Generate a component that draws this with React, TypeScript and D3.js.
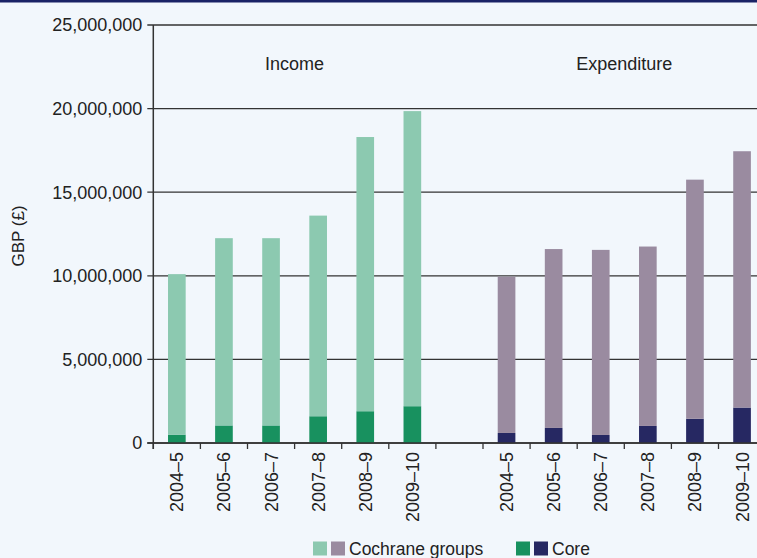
import React, { useEffect, useRef } from "react";
import * as d3 from "d3";

const years = ["2004–5", "2005–6", "2006–7", "2007–8", "2008–9", "2009–10"];
const groups = ["Income", "Expenditure"];

// values in GBP
const incomeCore = [500000, 1050000, 1050000, 1600000, 1900000, 2200000];
const incomeCochrane = [9600000, 11200000, 11200000, 12000000, 16400000, 17650000];
const expenditureCore = [600000, 900000, 480000, 1020000, 1450000, 2120000];
const expenditureCochrane = [9350000, 10700000, 11070000, 10730000, 14300000, 15330000];

const yTicks = [0, 5000000, 10000000, 15000000, 20000000, 25000000];

const colors: Record<string, { cochrane: string; core: string }> = {
  Income: { cochrane: "#8cc9b0", core: "#18915f" },
  Expenditure: { cochrane: "#9a8ba0", core: "#262862" },
};

const W = 757;
const H = 558;
const FONT = "'Liberation Sans', Arial, sans-serif";

export default function App() {
  const ref = useRef<SVGSVGElement | null>(null);

  useEffect(() => {
    const svg = d3.select(ref.current);
    svg.selectAll("*").remove();

    const left = 153.3;
    const top = 25;
    const bottom = 443;
    const step = 47.1;

    // categories: 6 income, a blank spacer, 6 expenditure
    const keys = [
      ...years.map((y) => "Income|" + y),
      "gap",
      ...years.map((y) => "Expenditure|" + y),
    ];
    const x = d3
      .scaleBand<string>()
      .domain(keys)
      .range([left, left + step * keys.length])
      .paddingInner(0.625)
      .paddingOuter(0.3125);
    const y = d3.scaleLinear().domain([0, 25000000]).range([bottom, top]);

    svg.append("rect").attr("width", W).attr("height", H).attr("fill", "#f2f7fc");
    svg.append("rect").attr("width", W).attr("height", 2.5).attr("fill", "#1a2366");

    // gridlines
    svg
      .append("g")
      .selectAll("line")
      .data(yTicks)
      .enter()
      .append("line")
      .attr("x1", left - 6)
      .attr("x2", W)
      .attr("y1", (d) => y(d))
      .attr("y2", (d) => y(d))
      .attr("stroke", "#333")
      .attr("stroke-width", 1.3);

    // y tick labels
    svg
      .append("g")
      .selectAll("text")
      .data(yTicks)
      .enter()
      .append("text")
      .attr("x", left - 11)
      .attr("y", (d) => y(d))
      .attr("dy", "0.35em")
      .attr("text-anchor", "end")
      .style("font-family", FONT)
      .style("font-size", "18px")
      .style("fill", "#222")
      .text((d) => d3.format(",")(d));

    // bars
    const series = [
      { group: "Income", core: incomeCore, cochrane: incomeCochrane },
      { group: "Expenditure", core: expenditureCore, cochrane: expenditureCochrane },
    ];
    const barG = svg.append("g");
    series.forEach((s) => {
      const rows = years.map((yr, i) => ({
        key: s.group + "|" + yr,
        core: s.core[i],
        cochrane: s.cochrane[i],
      }));
      const stacked = d3.stack<any>().keys(["core", "cochrane"])(rows);
      stacked.forEach((layer) => {
        barG
          .append("g")
          .attr("fill", colors[s.group][layer.key as "core" | "cochrane"])
          .selectAll("rect")
          .data(layer)
          .enter()
          .append("rect")
          .attr("x", (d: any) => x(d.data.key)!)
          .attr("width", x.bandwidth())
          .attr("y", (d) => y(d[1]))
          .attr("height", (d) => y(d[0]) - y(d[1]));
      });
    });

    // axes lines
    svg
      .append("line")
      .attr("x1", left)
      .attr("x2", left)
      .attr("y1", top)
      .attr("y2", bottom + 6)
      .attr("stroke", "#333")
      .attr("stroke-width", 1.5);
    svg
      .append("line")
      .attr("x1", left - 6)
      .attr("x2", W)
      .attr("y1", bottom)
      .attr("y2", bottom)
      .attr("stroke", "#333")
      .attr("stroke-width", 1.5);

    // x ticks at band boundaries
    svg
      .append("g")
      .selectAll("line")
      .data(d3.range(keys.length + 1))
      .enter()
      .append("line")
      .attr("x1", (i) => x.range()[0] + i * x.step())
      .attr("x2", (i) => x.range()[0] + i * x.step())
      .attr("y1", bottom)
      .attr("y2", bottom + 6)
      .attr("stroke", "#333")
      .attr("stroke-width", 1.3);

    // x labels
    svg
      .append("g")
      .selectAll("text")
      .data(keys.filter((k) => k !== "gap"))
      .enter()
      .append("text")
      .attr(
        "transform",
        (k) => `translate(${x(k)! + x.bandwidth() / 2 + 6.5},${bottom + 9}) rotate(-90)`
      )
      .attr("text-anchor", "end")
      .style("font-family", FONT)
      .style("font-size", "18px")
      .style("fill", "#222")
      .text((k) => k.split("|")[1]);

    // group labels
    groups.forEach((g) => {
      const first = x(g + "|" + years[0])!;
      const last = x(g + "|" + years[years.length - 1])!;
      const cx = (first + last + x.bandwidth()) / 2;
      svg
        .append("text")
        .attr("x", cx)
        .attr("y", 70)
        .attr("text-anchor", "middle")
        .style("font-family", FONT)
        .style("font-size", "18px")
        .style("fill", "#222")
        .text(g);
    });

    // y axis title
    svg
      .append("text")
      .attr("transform", `translate(24,236) rotate(-90)`)
      .attr("text-anchor", "middle")
      .style("font-family", FONT)
      .style("font-size", "17px")
      .style("fill", "#222")
      .text("GBP (£)");

    // legend
    const legend = [
      { x: 313, colors: [colors.Income.cochrane, colors.Expenditure.cochrane], label: "Cochrane groups" },
      { x: 516, colors: [colors.Income.core, colors.Expenditure.core], label: "Core" },
    ];
    legend.forEach((l) => {
      l.colors.forEach((c, i) => {
        svg
          .append("rect")
          .attr("x", l.x + i * 18)
          .attr("y", 541.5)
          .attr("width", 14)
          .attr("height", 14)
          .attr("fill", c);
      });
      svg
        .append("text")
        .attr("x", l.x + 36)
        .attr("y", 554.5)
        .style("font-family", FONT)
        .style("font-size", "17.5px")
        .style("fill", "#222")
        .text(l.label);
    });
  }, []);

  return (
    <svg
      ref={ref}
      width={W}
      height={H}
      style={{ position: "absolute", left: 0, top: 0, display: "block" }}
    />
  );
}
